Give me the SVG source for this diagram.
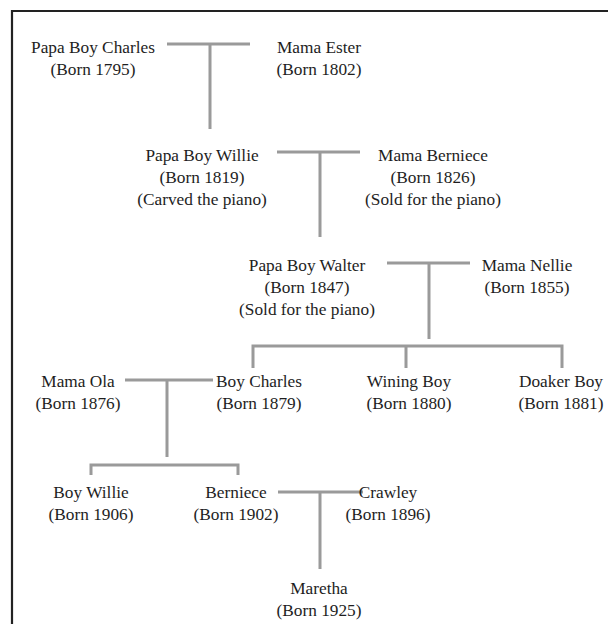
<svg xmlns="http://www.w3.org/2000/svg" width="608" height="624" viewBox="0 0 608 624">
<style>
text{font-family:'Liberation Serif','Tinos','Times New Roman','DejaVu Serif',serif;font-size:17.3px;fill:#1e1e1e;text-anchor:middle}
.ln{stroke:#9a9a9a;stroke-width:3;fill:none}
</style>
<rect width="608" height="624" fill="#ffffff"/>
<path d="M12 624 V11 H608" fill="none" stroke="#222" stroke-width="2.2"/>
<g id="connectors">
<path class="ln" d="M167 44 H250 M210 44 V129"/>
<path class="ln" d="M277 152 H360 M320 152 V237"/>
<path class="ln" d="M387 263 H470 M429 263 V339"/>
<path class="ln" d="M253 368 V346 H562 V368 M406 346 V368"/>
<path class="ln" d="M125 380 H213 M167 380 V457"/>
<path class="ln" d="M91 475 V465 H238 V475"/>
<path class="ln" d="M278 492 H363 M320 492 V569"/>
</g>
<g id="papa-boy-charles"><text x="93" y="53">Papa Boy Charles</text><text x="93" y="75">(Born 1795)</text></g>
<g id="mama-ester"><text x="319" y="53">Mama Ester</text><text x="319" y="75">(Born 1802)</text></g>
<g id="papa-boy-willie"><text x="202" y="161">Papa Boy Willie</text><text x="202" y="183">(Born 1819)</text><text x="202" y="205">(Carved the piano)</text></g>
<g id="mama-berniece"><text x="433" y="161">Mama Berniece</text><text x="433" y="183">(Born 1826)</text><text x="433" y="205">(Sold for the piano)</text></g>
<g id="papa-boy-walter"><text x="307" y="271">Papa Boy Walter</text><text x="307" y="293">(Born 1847)</text><text x="307" y="315">(Sold for the piano)</text></g>
<g id="mama-nellie"><text x="527" y="271">Mama Nellie</text><text x="527" y="293">(Born 1855)</text></g>
<g id="mama-ola"><text x="78" y="387">Mama Ola</text><text x="78" y="409">(Born 1876)</text></g>
<g id="boy-charles"><text x="259" y="387">Boy Charles</text><text x="259" y="409">(Born 1879)</text></g>
<g id="wining-boy"><text x="409" y="387">Wining Boy</text><text x="409" y="409">(Born 1880)</text></g>
<g id="doaker-boy"><text x="561" y="387">Doaker Boy</text><text x="561" y="409">(Born 1881)</text></g>
<g id="boy-willie"><text x="91" y="498">Boy Willie</text><text x="91" y="520">(Born 1906)</text></g>
<g id="berniece"><text x="236" y="498">Berniece</text><text x="236" y="520">(Born 1902)</text></g>
<g id="crawley"><text x="388" y="498">Crawley</text><text x="388" y="520">(Born 1896)</text></g>
<g id="maretha"><text x="319" y="594">Maretha</text><text x="319" y="616">(Born 1925)</text></g>
</svg>
